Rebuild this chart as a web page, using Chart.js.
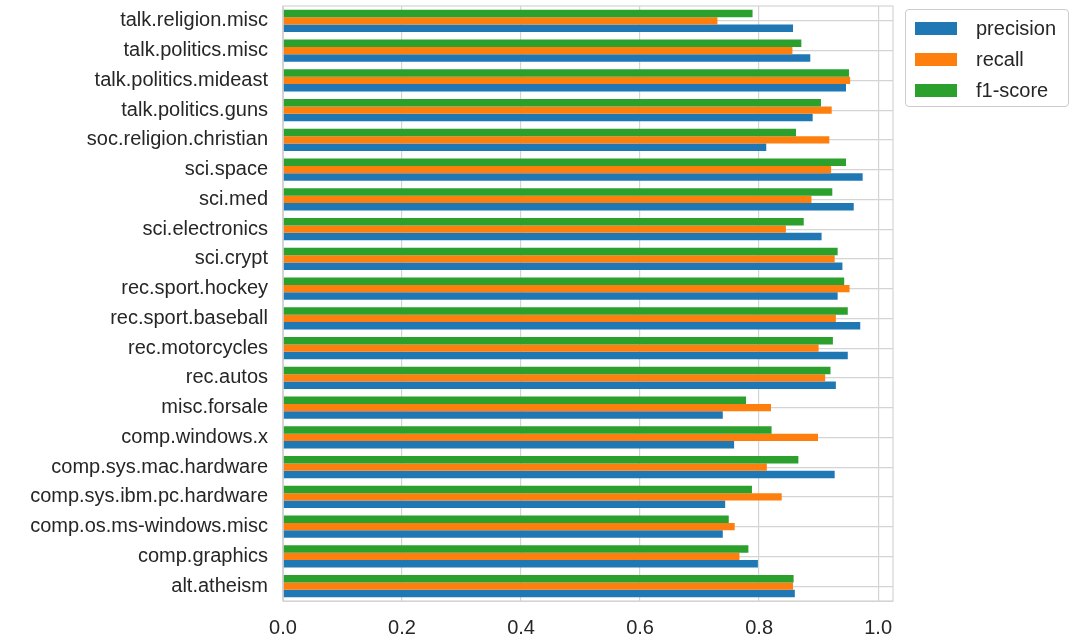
<!DOCTYPE html>
<html>
<head>
<meta charset="utf-8">
<script src="https://cdn.jsdelivr.net/npm/chart.js@4/dist/chart.umd.min.js"></script>
<style>
    body { margin: 0; background: #fff; }
    #wrap { position: relative; width: 1073px; height: 641px; }
    #legend {
        position: absolute; left: 905px; top: 9px; width: 164px; height: 98px;
        border: 1px solid #cccccc; border-radius: 4px; box-sizing: border-box;
        font-family: "Liberation Sans", Arial, sans-serif; font-size: 20px; color: #262626;
    }
    .item { position: absolute; left: 0; height: 20px; line-height: 20px; }
    .item span.sw { position: absolute; left: 9px; top: 4px; width: 42px; height: 13px; }
    .item span.tx { position: absolute; left: 70px; top: 0; white-space: nowrap; }
</style>
</head>
<body>
<div id="wrap">
    <canvas id="reportChart" width="1073" height="641"></canvas>
    <div id="legend"></div>
</div>
<script>
const categories = [
    "alt.atheism", "comp.graphics", "comp.os.ms-windows.misc", "comp.sys.ibm.pc.hardware",
    "comp.sys.mac.hardware", "comp.windows.x", "misc.forsale", "rec.autos",
    "rec.motorcycles", "rec.sport.baseball", "rec.sport.hockey", "sci.crypt",
    "sci.electronics", "sci.med", "sci.space", "soc.religion.christian",
    "talk.politics.guns", "talk.politics.mideast", "talk.politics.misc", "talk.religion.misc"
];
const precision = [0.860, 0.798, 0.739, 0.743, 0.927, 0.758, 0.739, 0.929, 0.949, 0.970,
                   0.932, 0.940, 0.905, 0.959, 0.974, 0.812, 0.890, 0.946, 0.886, 0.857];
const recall    = [0.857, 0.767, 0.759, 0.838, 0.813, 0.899, 0.820, 0.911, 0.900, 0.929,
                   0.952, 0.927, 0.845, 0.888, 0.921, 0.918, 0.922, 0.953, 0.856, 0.730];
const f1score   = [0.858, 0.782, 0.749, 0.788, 0.866, 0.821, 0.778, 0.920, 0.924, 0.949,
                   0.943, 0.932, 0.875, 0.923, 0.946, 0.862, 0.904, 0.951, 0.871, 0.789];
const xTicks = [0.0, 0.2, 0.4, 0.6, 0.8, 1.0];

const colors = { precision: "#1f77b4", recall: "#ff7f0e", f1: "#2ca02c" };
const gridColor = "#d4d4d4";
const font = "'Liberation Sans', Arial, sans-serif";

// chart.js lists categories top-down, so flip everything
const rev = arr => arr.slice().reverse();

// legend (html, boxed like matplotlib)
const legendItems = [["precision", colors.precision], ["recall", colors.recall], ["f1-score", colors.f1]];
const legendEl = document.getElementById("legend");
legendItems.forEach(([name, col], i) => {
    const d = document.createElement("div");
    d.className = "item";
    d.style.top = (8 + i * 31) + "px";
    d.innerHTML = '<span class="sw" style="background:' + col + '"></span><span class="tx">' + name + '</span>';
    d.style.width = "160px";
    legendEl.appendChild(d);
});

const frame = {
    id: "frame",
    afterDraw(chart) {
        const a = chart.chartArea, ctx = chart.ctx;
        ctx.save();
        ctx.strokeStyle = gridColor;
        ctx.lineWidth = 1.2;
        ctx.strokeRect(a.left, a.top, a.right - a.left, a.bottom - a.top);
        ctx.restore();
    }
};

new Chart(document.getElementById("reportChart"), {
    type: "bar",
    data: {
        labels: rev(categories),
        datasets: [
            { label: "f1-score", data: rev(f1score), backgroundColor: colors.f1 },
            { label: "recall", data: rev(recall), backgroundColor: colors.recall },
            { label: "precision", data: rev(precision), backgroundColor: colors.precision }
        ]
    },
    options: {
        indexAxis: "y",
        responsive: false,
        animation: false,
        categoryPercentage: 0.75,
        barPercentage: 1.0,
        layout: { padding: { top: 6, right: 180, left: 0, bottom: 0 } },
        plugins: {
            legend: { display: false },
            tooltip: { enabled: false }
        },
        scales: {
            x: {
                min: 0,
                max: 1.025,
                afterFit: s => { s.height = 40; s.paddingLeft = 0; s.paddingRight = 0; },
                afterBuildTicks: s => { s.ticks = xTicks.map(v => ({ value: v })); },
                grid: { color: gridColor, drawTicks: false, lineWidth: 1.2 },
                border: { color: gridColor },
                ticks: {
                    color: "#262626",
                    font: { family: font, size: 20 },
                    padding: 15,
                    callback: v => Number(v).toFixed(1)
                }
            },
            y: {
                afterFit: s => { s.width = 283; s.paddingTop = 0; s.paddingBottom = 0; },
                grid: { color: gridColor, drawTicks: false, offset: false, lineWidth: 1.2 },
                border: { color: gridColor },
                ticks: {
                    color: "#262626",
                    font: { family: font, size: 20 },
                    padding: 15,
                    autoSkip: false
                }
            }
        }
    },
    plugins: [frame]
});
</script>
</body>
</html>
